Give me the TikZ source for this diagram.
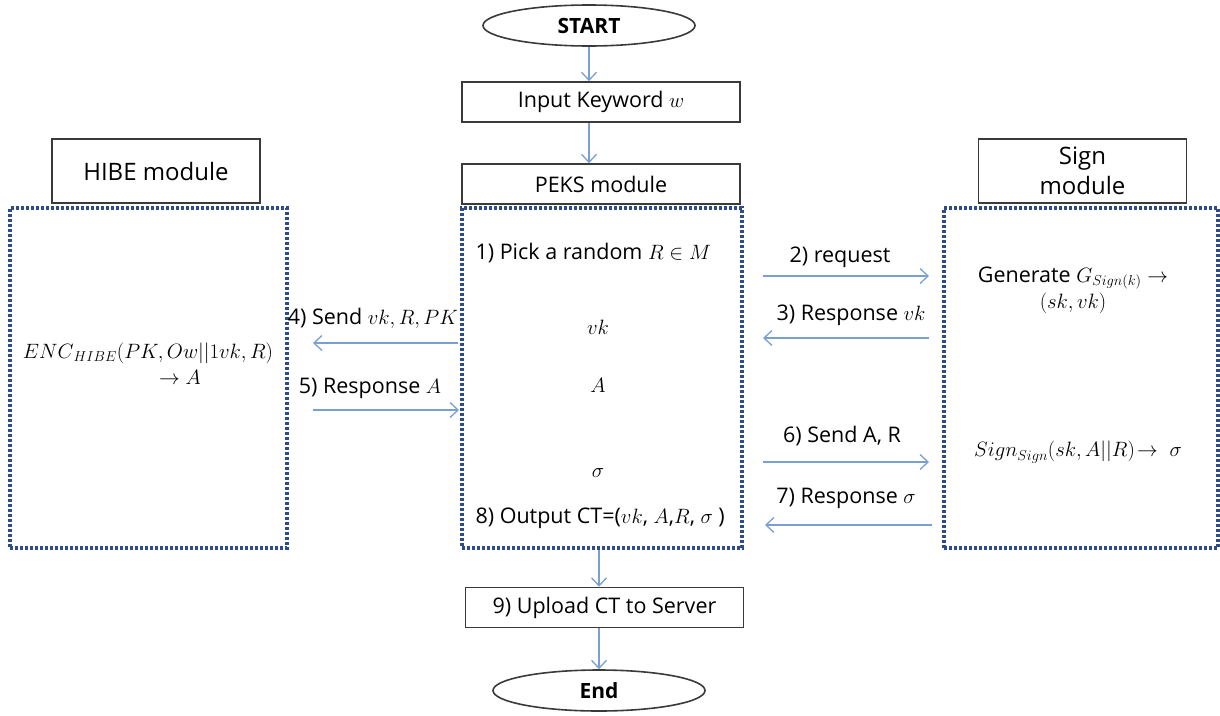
\documentclass[tikz,border=0pt]{standalone}
\usepackage{fontspec}
\setmainfont{Open Sans}
\usepackage{amsmath,amssymb}
\usetikzlibrary{arrows.meta,positioning,shapes.geometric}
\definecolor{flowblue}{HTML}{7A9FD3}
\definecolor{dotblue}{HTML}{2E4C8A}
\definecolor{boxgray}{HTML}{3A3A3A}

\begin{document}
\begin{tikzpicture}[x=1pt,y=-1pt,
    every node/.style={font=\fontsize{21.5}{26}\selectfont},
    boxnode/.style={draw=boxgray,line width=1.6pt,minimum height=40pt,inner sep=0pt},
    flowbox/.style={boxnode,minimum width=278pt},
    headbox/.style={boxnode,minimum width=208pt,minimum height=64pt,align=center,
                    font=\fontsize{24}{28}\selectfont},
    term/.style={ellipse,draw=boxgray,line width=1.6pt,minimum width=212pt,
                 minimum height=41pt,inner sep=0pt,font=\fontsize{21}{25}\selectfont\bfseries},
    modbox/.style={draw=dotblue,line width=3.2pt,dash pattern=on 3pt off 2pt,
                   minimum height=340pt,inner sep=0pt},
    flow/.style={-{Straight Barb[length=8pt,width=15pt]},line width=1.3pt,flowblue},
    msg/.style={inner sep=1pt}
  ]
    \useasboundingbox (0,0) rectangle (1220,715);

    % main column
    \node[term] (start) at (589,25.5) {START};
    \node[flowbox] (input) at (601,102) {Input Keyword $w$};
    \node[flowbox] (peks) at (601,184) {PEKS module};
    \node[modbox,minimum width=280pt] (peksbox) at (602,378) {};
    \node[flowbox] (upload) at (604.5,607.5) {9) Upload CT to Server};
    \node[term] (end) at (599,690.5) {End};

    % side modules
    \node[headbox] (hibe) at (156,171) {HIBE module};
    \node[modbox,minimum width=277pt] (hibebox) at (148.5,378) {};
    \node[headbox] (sign) at (1082.5,171) {Sign\\[2pt]module};
    \node[modbox,minimum width=274pt] (signbox) at (1081,378) {};

    % PEKS steps
    \node[anchor=west] (pick) at (472,253) {1) Pick a random $R\in M$};
    \node (vk) at (598,327) {$vk$};
    \node (a) at (598,385) {$A$};
    \node (sigma) at (598,473) {$\sigma$};
    \node[anchor=west] (output) at (472,518) {8) Output CT=($vk$, $A$,$R$, $\sigma$ )};

    % module work
    \node[align=center] (enc) at (148,364)
      {$\mathnormal{ENC}_{\mathnormal{HIBE}}(PK,Ow||1vk,R)$\\\hspace*{64pt}$\rightarrow A$};
    \node[align=center] (gen) at (1073,290)
      {Generate $G_{\mathnormal{Sign}(k)}\rightarrow$\\$(sk,vk)$};
    \node (signf) at (1078,452)
      {$\mathnormal{Sign}_{\mathnormal{Sign}}(sk,A||R)\!\rightarrow\;\sigma$};

    % message ends
    \coordinate (req1) at (763,276);  \coordinate (req2) at (929,276);
    \coordinate (res1) at (929,338);  \coordinate (res2) at (763,338);
    \coordinate (snd1) at (763,462);  \coordinate (snd2) at (929,462);
    \coordinate (sig1) at (932,525);  \coordinate (sig2) at (765,525);
    \coordinate (hib1) at (458,343);  \coordinate (hib2) at (313,343);
    \coordinate (ans1) at (313,410);  \coordinate (ans2) at (459,410);

    % message labels
    \node[msg] (l2) at (840,257) {2) request};
    \node[msg] (l3) at (851,315) {3) Response $vk$};
    \node[msg] (l6) at (842,436) {6) Send A, R};
    \node[msg] (l7) at (846,498) {7) Response $\sigma$};
    \node[msg] (l4) at (373,318) {4) Send $vk,R,PK$};
    \node[msg] (l5) at (370,388) {5) Response $A$};

    % connectors
    \draw[flow] (start.south) -- (start.south |- input.north);
    \draw[flow] (start.south |- input.south) -- (start.south |- peks.north);
    \draw[flow] (end |- peksbox.south) -- (end |- upload.north);
    \draw[flow] (end |- upload.south) -- (end.north);
    \draw[flow] (req1) -- (req2);
    \draw[flow] (res1) -- (res2);
    \draw[flow] (snd1) -- (snd2);
    \draw[flow] (sig1) -- (sig2);
    \draw[flow] (hib1) -- (hib2);
    \draw[flow] (ans1) -- (ans2);
  \end{tikzpicture}
\end{document}
